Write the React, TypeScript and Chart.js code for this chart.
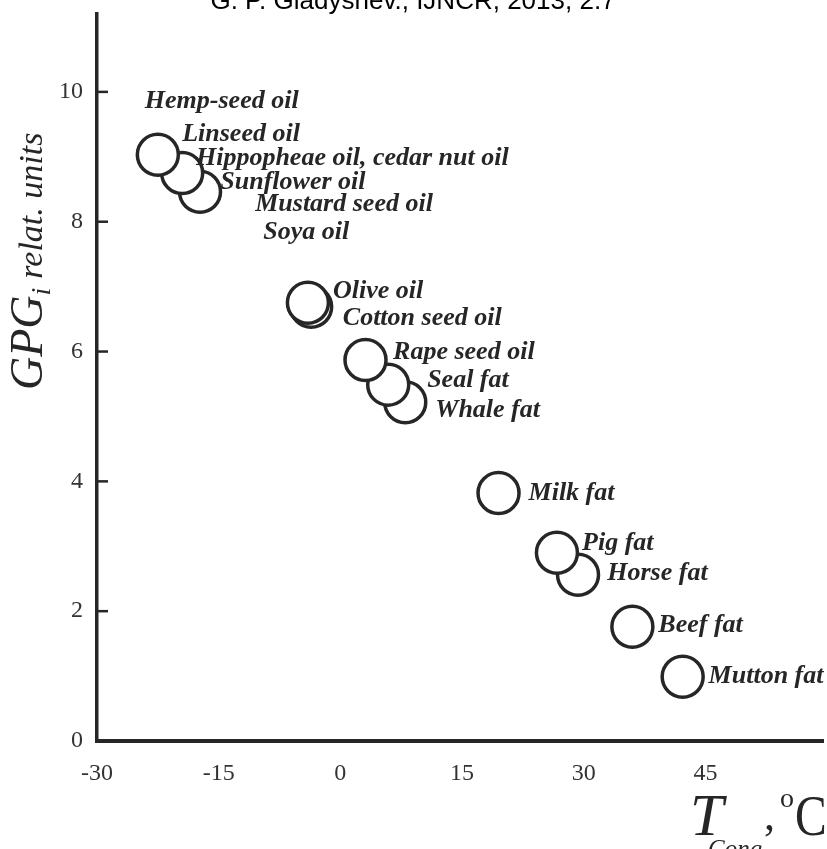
import React, { useEffect, useRef } from 'react';
import { Chart, registerables } from 'chart.js';

Chart.register(...registerables);

// ---- data ----
const circleNames = [
  'Linseed / Hemp-seed oil',
  'Hippopheae oil, cedar nut oil',
  'Sunflower / Mustard seed / Soya oil',
  'Olive oil',
  'Cotton seed oil',
  'Rape seed oil',
  'Seal fat',
  'Whale fat',
  'Milk fat',
  'Pig fat',
  'Horse fat',
  'Beef fat',
  'Mutton fat',
];
const congTemps = [-22.5, -19.5, -17.3, -4.0, -3.6, 3.1, 5.9, 8.0, 19.5, 26.7, 29.3, 36.0, 42.2];
const gpgValues = [9.03, 8.75, 8.46, 6.75, 6.69, 5.87, 5.49, 5.22, 3.82, 2.9, 2.56, 1.76, 0.99];

const labelTexts = [
  'Hemp-seed oil',
  'Linseed oil',
  'Hippopheae oil, cedar nut oil',
  'Sunflower oil',
  'Mustard seed oil',
  'Soya oil',
  'Olive oil',
  'Cotton seed oil',
  'Rape seed oil',
  'Seal fat',
  'Whale fat',
  'Milk fat',
  'Pig fat',
  'Horse fat',
  'Beef fat',
  'Mutton fat',
];
const labelTemps = [-24.1, -19.5, -17.8, -14.8, -10.5, -9.5, -0.9, 0.3, 6.5, 10.7, 11.7, 23.2, 29.8, 32.9, 39.2, 45.4];
const labelGpg = [9.85, 9.34, 8.98, 8.61, 8.27, 7.83, 6.93, 6.52, 5.99, 5.56, 5.1, 3.82, 3.05, 2.59, 1.79, 0.99];

const xTicks = [-30, -15, 0, 15, 30, 45];
const yTicks = [0, 2, 4, 6, 8, 10];

const titleText = 'G. P. Gladyshev., IJNCR, 2013, 2.7';
const yTitleMain = 'GPG';
const yTitleSub = 'i';
const yTitleRest = 'relat. units';
const xTitleMain = 'T';
const xTitleSub = 'Cong';
const xTitleUnitSup = 'o';
const xTitleUnit = 'C';

const SERIF = '"Liberation Serif", "Times New Roman", "DejaVu Serif", serif';
const SANS = '"Liberation Sans", Arial, sans-serif';
const INK = '#262626';

const decorPlugin = {
  id: 'decor',
  afterDatasetsDraw(chart: any) {
    const ctx = chart.ctx;
    const xs = chart.scales.x;
    const ys = chart.scales.y;
    const area = chart.chartArea;
    ctx.save();

    // inward tick marks on y axis
    ctx.strokeStyle = INK;
    ctx.lineWidth = 2.5;
    yTicks.forEach((v) => {
      if (v === 0) return;
      const py = ys.getPixelForValue(v);
      ctx.beginPath();
      ctx.moveTo(area.left, py);
      ctx.lineTo(area.left + 11, py);
      ctx.stroke();
    });

    // point labels
    ctx.fillStyle = INK;
    ctx.font = `italic bold 26px ${SERIF}`;
    ctx.textAlign = 'left';
    ctx.textBaseline = 'middle';
    labelTexts.forEach((t, i) => {
      ctx.fillText(t, xs.getPixelForValue(labelTemps[i]), ys.getPixelForValue(labelGpg[i]));
    });

    // y-axis title (rotated)
    ctx.save();
    ctx.translate(42, 390);
    ctx.rotate(-Math.PI / 2);
    ctx.textBaseline = 'alphabetic';
    ctx.font = `italic 46px ${SERIF}`;
    ctx.fillText(yTitleMain, 0, 0);
    let off = ctx.measureText(yTitleMain).width;
    ctx.font = `italic 28px ${SERIF}`;
    ctx.fillText(yTitleSub, off, 8);
    off += ctx.measureText(yTitleSub).width + 9;
    ctx.font = `italic 34px ${SERIF}`;
    ctx.fillText(yTitleRest, off, 0);
    ctx.restore();

    // x-axis title
    ctx.textBaseline = 'alphabetic';
    ctx.font = `italic 60px ${SERIF}`;
    ctx.fillText(xTitleMain, 690, 835);
    ctx.font = `italic 25px ${SERIF}`;
    ctx.fillText(xTitleSub, 708, 857);
    ctx.font = `44px ${SERIF}`;
    ctx.fillText(',', 764, 830);
    ctx.font = `28px ${SERIF}`;
    ctx.fillText(xTitleUnitSup, 780, 807);
    ctx.save();
    ctx.translate(795, 835);
    ctx.scale(0.82, 1);
    ctx.font = `58px ${SERIF}`;
    ctx.fillText(xTitleUnit, 0, 0);
    ctx.restore();

    // page title (top partially cut)
    ctx.fillStyle = '#000';
    ctx.font = `26px ${SANS}`;
    ctx.textAlign = 'center';
    ctx.fillText(titleText, 413, 9);

    ctx.restore();
  },
};

export default function App() {
  const ref = useRef<HTMLCanvasElement | null>(null);
  useEffect(() => {
    if (!ref.current) return;
    const pts = congTemps.map((x, i) => ({ x, y: gpgValues[i], name: circleNames[i] })).reverse();
    const chart = new Chart(ref.current, {
      type: 'scatter',
      data: {
        datasets: [
          {
            label: 'GPG',
            data: pts,
            pointRadius: 20.5,
            pointHoverRadius: 20.5,
            borderWidth: 3.5,
            borderColor: INK,
            backgroundColor: '#ffffff',
            clip: false,
          } as any,
        ],
      },
      options: {
        responsive: false,
        animation: false,
        events: [],
        layout: { autoPadding: false, padding: { top: 14, right: 4, left: 0, bottom: 0 } },
        plugins: { legend: { display: false }, tooltip: { enabled: false }, title: { display: false } },
        scales: {
          x: {
            type: 'linear',
            min: -30,
            max: 59.5,
            afterBuildTicks: (s: any) => {
              s.ticks = xTicks.map((v) => ({ value: v }));
            },
            afterFit: (s: any) => {
              s.height = 108;
              s.paddingLeft = 0;
              s.paddingRight = 0;
            },
            grid: { display: false, drawTicks: false },
            border: { display: true, width: 4, color: INK },
            ticks: {
              padding: 18,
              color: '#333',
              font: { family: SERIF, size: 24 },
              callback: (v: any) => String(v),
              maxRotation: 0,
            },
          },
          y: {
            type: 'linear',
            min: 0,
            max: 11.2,
            afterBuildTicks: (s: any) => {
              s.ticks = yTicks.map((v) => ({ value: v }));
            },
            afterFit: (s: any) => {
              s.width = 97;
              s.paddingTop = 0;
              s.paddingBottom = 0;
            },
            grid: { display: false, drawTicks: false },
            border: { display: true, width: 3.5, color: INK },
            ticks: {
              padding: 14,
              color: '#333',
              font: { family: SERIF, size: 24 },
              callback: (v: any) => String(v),
            },
          },
        },
      },
      plugins: [decorPlugin],
    });
    return () => chart.destroy();
  }, []);
  return (
    <div style={{ position: 'absolute', left: 0, top: 0, width: 827, height: 849, background: '#fff' }}>
      <canvas ref={ref} width={827} height={849} style={{ display: 'block' }} />
    </div>
  );
}
